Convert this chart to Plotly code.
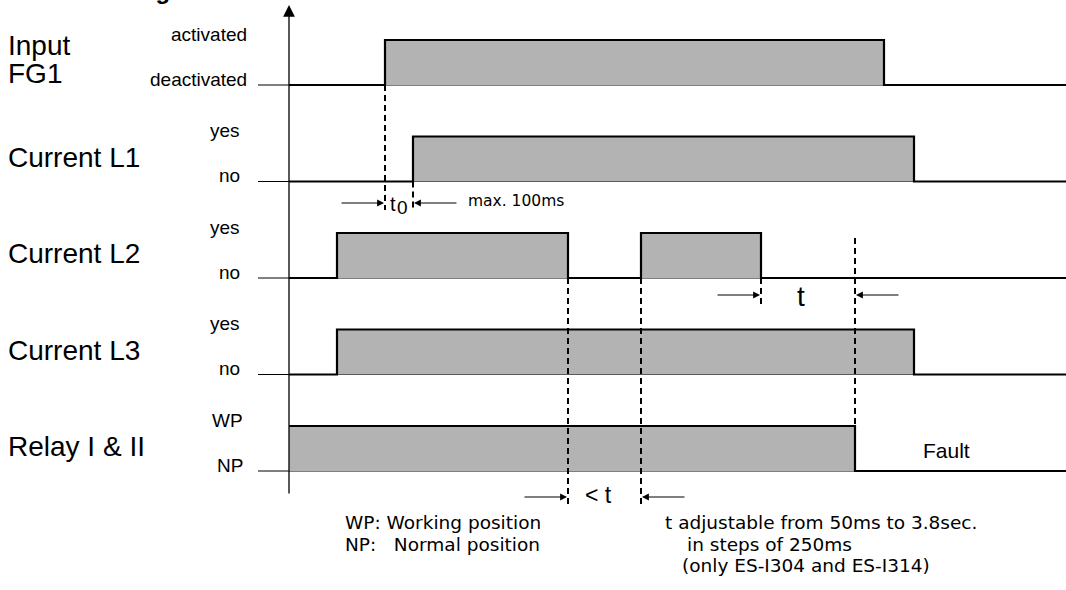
import plotly.graph_objects as go

# ---------------- data ----------------
title_lines = [["Input", "FG1"], ["Current L1"], ["Current L2"], ["Current L3"], ["Relay I & II"]]
high_labels = ["activated", "yes", "yes", "yes", "WP"]
low_labels = ["deactivated", "no", "no", "no", "NP"]

# switching instants (time units, 0 = time axis) and the state entered at each instant
fg1_times = [0.0, 9.6, 59.5]
fg1_states = [0, 1, 0]
l1_times = [0.0, 12.4, 62.5]
l1_states = [0, 1, 0]
l2_times = [0.0, 4.8, 27.9, 35.2, 47.2]
l2_states = [0, 1, 0, 1, 0]
l3_times = [0.0, 4.8, 62.5]
l3_states = [0, 1, 0]
relay_times = [0.0, 56.6]
relay_states = [1, 0]
time_end = 77.7

signals = [(fg1_times, fg1_states), (l1_times, l1_states), (l2_times, l2_states),
           (l3_times, l3_states), (relay_times, relay_states)]

note_left = ["WP: Working position", "NP:&nbsp;&nbsp; Normal position"]
note_right = ["t adjustable from 50ms to 3.8sec.", "in steps of 250ms", "(only ES-I304 and ES-I314)"]

# ---------------- geometry / style ----------------
X_MIN, X_MAX = -28.9, 77.7
Y_TOP, Y_BOT = 0.0, 59.0
ROW0, ROW_GAP, HIGH = 8.5, 9.65, 4.5
LEAD = -3.1
GREY = "#b3b3b3"
ARIAL = "Liberation Sans, Arial, sans-serif"
WIDE = "DejaVu Sans, Verdana, sans-serif"


def low(i):
    return ROW0 + ROW_GAP * i


def high(i):
    return low(i) - HIGH


fig = go.Figure()
annotations = []

for i, (times, states) in enumerate(signals):
    lo, hi = low(i), high(i)
    bounds = list(times) + [time_end]
    # thin reference line
    fig.add_trace(go.Scatter(x=[LEAD, time_end], y=[lo, lo], mode="lines",
                             line=dict(color="black", width=1), hoverinfo="skip"))
    # grey filled pulses
    for k, s in enumerate(states):
        if s:
            fig.add_trace(go.Scatter(x=[bounds[k], bounds[k], bounds[k + 1], bounds[k + 1]],
                                     y=[lo, hi, hi, lo], mode="lines", fill="toself",
                                     fillcolor=GREY, line=dict(width=0, color=GREY),
                                     hoverinfo="skip"))
    # signal step line
    ys = [hi if s else lo for s in states]
    ys.append(ys[-1])
    fig.add_trace(go.Scatter(x=bounds, y=ys, mode="lines", line_shape="hv",
                             line=dict(color="black", width=2.2), hoverinfo="skip"))

    # state labels
    rx = -4.0 if i == 0 else (-4.4 if i == 4 else -4.7)
    annotations.append(dict(x=rx, y=hi - 0.56, text=high_labels[i], xanchor="right",
                            yanchor="middle", showarrow=False,
                            font=dict(family=ARIAL, size=19, color="black")))
    annotations.append(dict(x=rx, y=lo - 0.56, text=low_labels[i], xanchor="right",
                            yanchor="middle", showarrow=False,
                            font=dict(family=ARIAL, size=19, color="black")))
    # row titles
    if len(title_lines[i]) == 2:
        offs = [-3.95, -1.15]
    else:
        offs = [-2.45]
    for line, off in zip(title_lines[i], offs):
        annotations.append(dict(x=-28.3, y=lo + off, text=line, xanchor="left",
                                yanchor="middle", showarrow=False,
                                font=dict(family=ARIAL, size=28, color="black")))

# timing references taken from the data
t0_a, t0_b = fg1_times[1], l1_times[1]
lt_a, lt_b = l2_times[2], l2_times[3]
t_a, t_b = l2_times[4], relay_times[1]

Y_T0, Y_T, Y_LT = 20.3, 29.5, 49.7
dashes = [
    (t0_a, low(0), Y_T0 + 0.7),
    (t0_b, low(1), Y_T0 + 0.7),
    (lt_a, low(2), Y_LT + 1.1),
    (lt_b, low(2), Y_LT + 1.1),
    (t_a, low(2), Y_T + 1.2),
    (t_b, 23.8, high(4)),
]
for x, y0, y1 in dashes:
    fig.add_trace(go.Scatter(x=[x, x], y=[y0, y1], mode="lines",
                             line=dict(color="black", width=2, dash="6px,4px"),
                             hoverinfo="skip"))


def arrow(x_head, x_tail, y, w=1.1, size=1.25):
    return dict(x=x_head, y=y, ax=x_tail, ay=y, xref="x", yref="y", axref="x", ayref="y",
                text="", showarrow=True, arrowhead=2, arrowsize=size, arrowwidth=w,
                arrowcolor="black", standoff=0)


# time axis (vertical arrow)
annotations.append(dict(x=0, y=0.5, ax=0, ay=49.5, xref="x", yref="y", axref="x", ayref="y",
                        text="", showarrow=True, arrowhead=2, arrowsize=1.8, arrowwidth=1.3,
                        arrowcolor="black", standoff=0))

L = 4.5
annotations += [
    arrow(t0_a - 0.1, t0_a - L, Y_T0), arrow(t0_b + 0.1, t0_b + L, Y_T0),
    arrow(t_a - 0.1, t_a - L, Y_T), arrow(t_b + 0.1, t_b + L, Y_T),
    arrow(lt_a - 0.1, lt_a - L, Y_LT), arrow(lt_b + 0.1, lt_b + L, Y_LT),
]


def label(x, y, s, size, family=ARIAL, xanchor="center", pad=1):
    return dict(x=x, y=y, text=s, xanchor=xanchor, yanchor="middle", showarrow=False,
                borderpad=pad, borderwidth=0 if pad == 0 else 1,
                font=dict(family=family, size=size, color="black"))


annotations += [
    label((t0_a + t0_b) / 2 - 0.6, 20.35, "t", 20),
    label((t0_a + t0_b) / 2 + 0.3, 20.75, "0", 19),
    label(t0_b + 5.3, 20.1, "max. 100ms", 15.5, WIDE, "left"),
    label((t_a + t_b) / 2 - 0.7, 29.63, "t", 28),
    label((lt_a + lt_b) / 2 - 0.6, 49.5, "&lt; t", 23),
    label(t_b + 6.6, 45.06, "Fault", 21, ARIAL, "left"),
]

NOTE_SIZE, NOTE_GAP, NOTE_Y = 18.5, 2.16, 52.25
for k, s in enumerate(note_left):
    annotations.append(label(5.6, NOTE_Y + NOTE_GAP * k, s, NOTE_SIZE, WIDE, "left", pad=0))
note_x = [37.6, 39.8, 39.3]
for k, s in enumerate(note_right):
    annotations.append(label(note_x[k], NOTE_Y + NOTE_GAP * k, s, NOTE_SIZE, WIDE, "left", pad=0))

# clipped heading at the top edge
annotations.append(dict(x=-11.7, y=0.6, text="<b>Timing</b>", xanchor="right", yanchor="bottom",
                        showarrow=False, font=dict(family=ARIAL, size=24, color="black")))

fig.update_layout(
    width=1066, height=590,
    margin=dict(l=0, r=0, t=0, b=0),
    paper_bgcolor="white", plot_bgcolor="white",
    showlegend=False,
    xaxis=dict(range=[X_MIN, X_MAX], visible=False, fixedrange=True),
    yaxis=dict(range=[Y_BOT, Y_TOP], visible=False, fixedrange=True),
    annotations=annotations,
)

fig.write_html("out.html", config={"displayModeBar": False},
               post_script="document.body.style.margin='0';")
